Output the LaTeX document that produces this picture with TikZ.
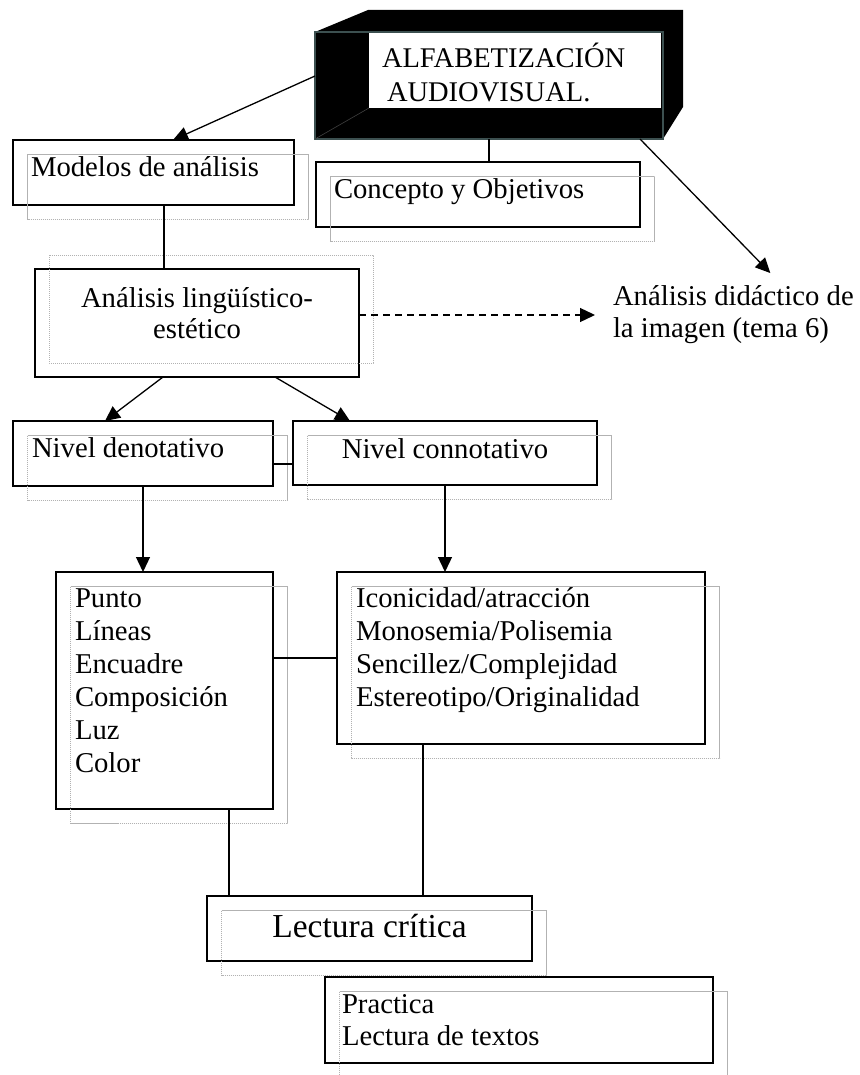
\documentclass[tikz,border=0pt]{standalone}
\usepackage{fontspec}
\setmainfont{Liberation Serif}
\usetikzlibrary{arrows.meta,calc}
\definecolor{frame}{RGB}{60,80,80}
\begin{document}
\begin{tikzpicture}[x=1pt,y=-1pt,
  box/.style={draw,line width=1.6pt,inner sep=0pt,outer sep=0pt,anchor=north west},
  ghost/.style={draw=gray!60,line width=1pt,dash pattern=on 1.2pt off 0.8pt},
  txt/.style={inner sep=0pt,outer sep=0pt,font=\fontsize{28.7}{33}\selectfont,align=left},
  link/.style={line width=1.3pt},
  arr/.style={link,-{Triangle[length=15pt,width=14pt]}},
  dasharr/.style={arr,dash pattern=on 7pt off 5pt}]
\useasboundingbox[fill=white] (0,0) rectangle (859,1075);

% --- 3D title box
\fill (315,32) -- (368,10) -- (683,10) -- (683,107) -- (663,139) -- (315,139) -- cycle;
\node[box,draw=frame,line width=1.3pt,minimum width=348pt,minimum height=107pt] (alfa) at (315,32) {};
\draw[gray!50!black,line width=0.6pt] (alfa.south west) -- (369,108);
\node[inner sep=0pt,outer sep=0pt,fill=white,anchor=north west,minimum width=292pt,minimum height=75pt] (alfaface) at (369,33) {};
\node[txt,font=\fontsize{28.5}{34}\selectfont,anchor=base west] (talfa) at (382,102) {ALFABETIZACIÓN\\\hspace*{5pt}AUDIOVISUAL.};

% --- solid boxes
\node[box,minimum width=281pt,minimum height=65pt] (modelos) at (13,140) {};
\node[box,minimum width=324pt,minimum height=65pt] (concepto) at (316,162) {};
\node[box,minimum width=324pt,minimum height=108pt] (analisis) at (35,269) {};
\node[box,minimum width=260pt,minimum height=65pt] (denot) at (13,421) {};
\node[box,minimum width=304pt,minimum height=64pt] (connot) at (293,421) {};
\node[box,minimum width=217pt,minimum height=237pt] (punto) at (56,572) {};
\node[box,minimum width=368pt,minimum height=172pt] (icon) at (337,572) {};
\node[box,minimum width=325pt,minimum height=65pt] (lectura) at (207,896) {};
\node[box,minimum width=388pt,minimum height=86pt] (practica) at (325,977) {};

% --- offset grey frames
\foreach \n in {modelos,concepto,denot,connot,punto,icon,lectura,practica}
  \draw[ghost] ([shift={(14.5pt,-14.5pt)}]\n.north west) rectangle ([shift={(14.5pt,-14.5pt)}]\n.south east);
\draw[ghost] ([shift={(14pt,14pt)}]analisis.north west) rectangle ([shift={(14pt,14pt)}]analisis.south east);

% --- texts (base = baseline of the last line)
\node[txt,anchor=base west] (tmodelos) at (31,177) {Modelos de análisis};
\node[txt,anchor=base west] (tconcepto) at (334,199) {Concepto y Objetivos};
\node[txt,align=center,font=\fontsize{28.7}{31}\selectfont,anchor=base] (tanalisis) at (197,338) {Análisis lingüístico-\\estético};
\node[txt,font=\fontsize{28.7}{32}\selectfont,anchor=base west] (didac) at (613,337) {Análisis didáctico de\\la imagen (tema 6)};
\node[txt,anchor=base west] (tdenot) at (32,457) {Nivel denotativo};
\node[txt,anchor=base] (tconnot) at (445,458) {Nivel connotativo};
\node[txt,anchor=base west] (tpunto) at (75,772) {Punto\\Líneas\\Encuadre\\Composición\\Luz\\Color};
\node[txt,anchor=base west] (ticon) at (356,706) {Iconicidad/atracción\\Monosemia/Polisemia\\Sencillez/Complejidad\\Estereotipo/Originalidad};
\node[txt,font=\fontsize{33.5}{38}\selectfont,anchor=base] (tlectura) at (369.5,937) {Lectura crítica};
\node[txt,font=\fontsize{28.7}{32}\selectfont,anchor=base west] (tpractica) at (342,1045) {Practica\\Lectura de textos};

% --- connectors
\draw[arr] ([yshift=9.5pt]alfa.west) -- ([xshift=19.5pt]modelos.north);
\coordinate (c1) at ([xshift=11pt]concepto.north);
\draw[link] (c1 |- alfa.south) -- (c1);
\draw[arr] ([xshift=-23pt]alfa.south east) -- ([shift={(37pt,12pt)}]didac.north);
\coordinate (m1) at ([xshift=10.5pt]modelos.south);
\draw[link] (m1) -- (m1 |- analisis.north);
\coordinate (a1) at ([yshift=8pt]analisis.east);
\coordinate (d1) at ([xshift=-18pt]didac.west);
\draw[dasharr] (a1) -- (d1 |- a1);
\draw[arr] ([xshift=-34pt]analisis.south) -- ([xshift=-38pt]denot.north);
\draw[arr] ([xshift=78pt]analisis.south) -- ([xshift=-95pt]connot.north);
\coordinate (n1) at ([yshift=-10.5pt]denot.east);
\draw[link] (n1) -- (n1 -| connot.west);
\draw[arr] (denot.south) -- (denot.south |- punto.north);
\draw[arr] (connot.south) -- (connot.south |- icon.north);
\coordinate (p1) at ([yshift=32.5pt]punto.east);
\draw[link] (p1) -- (p1 -| icon.west);
\coordinate (p2) at ([xshift=64.5pt]punto.south);
\draw[link] (p2) -- (p2 |- lectura.north);
\coordinate (i2) at ([xshift=-98pt]icon.south);
\draw[link] (i2) -- (i2 |- lectura.north);
\end{tikzpicture}
\end{document}
